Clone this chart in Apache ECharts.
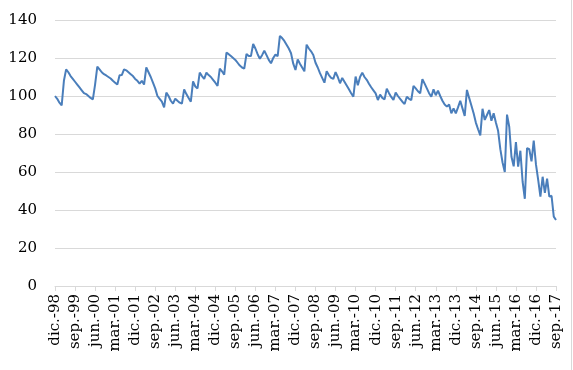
<!DOCTYPE html>
<html>
<head>
<meta charset="utf-8">
<script src="https://cdn.jsdelivr.net/npm/echarts@6/dist/echarts.min.js"></script>
<style>html,body{margin:0;padding:0;background:#fff}#c{width:573px;height:370px}</style>
</head>
<body>
<div id="c"></div>
<script>
var monthNames = ['ene.','feb.','mar.','abr.','may.','jun.','jul.','ago.','sep.','oct.','nov.','dic.'];
// categories: monthly from dic-98 to sep-17
var categories = [];
(function(){ var y = 1998, m = 11; for (var i = 0; i < 226; i++) { categories.push(monthNames[m] + '-' + String(y % 100).padStart(2, '0')); m++; if (m === 12) { m = 0; y++; } } })();

var values = [
100, 98.5, 96.5, 95, 108, 114, 112.5, 110.5, 109, 107.5,
106, 104.5, 103, 101.5, 101, 100, 99, 98.2, 106, 115.4,
114, 112.5, 111.5, 110.8, 110, 109.2, 108, 107, 106, 110.9,
111, 114, 113.5, 112.5, 111.5, 110.5, 109, 108, 106.5, 108,
106, 115, 112.5, 110, 107, 104, 100, 98.5, 97, 94,
101.8, 100, 97.5, 96, 98.6, 97.5, 96.5, 96, 103.5, 101,
99, 97, 107.7, 105, 104, 112.3, 110.5, 109, 112.3, 111,
110, 108.5, 107, 105.3, 114.4, 113, 111.2, 122.8, 122, 121,
120, 119, 117.5, 116, 115, 114.4, 122.1, 121, 121, 127.4,
125, 122, 119.6, 121.5, 123.8, 121.5, 119, 117.2, 120, 121.8,
121, 131.6, 130.5, 129, 127, 125, 122.5, 117, 113.7, 119.3,
117, 115, 113, 127, 125, 123.5, 121.6, 117.5, 115, 112,
109.5, 107, 113, 111, 109.5, 109, 112.6, 110, 106.7, 109.5,
107.5, 105.5, 103.5, 101.5, 99.6, 110.2, 105.6, 110, 112.3, 110,
108.5, 106.5, 104.6, 103, 101.4, 97.9, 100.7, 99, 98.2, 103.8,
101.5, 99.5, 97.9, 101.8, 100, 98.5, 97, 95.8, 99.6, 98.5,
97.9, 105.3, 104, 102.5, 101.4, 108.8, 106.5, 104, 101.5, 99.6,
103.5, 100.4, 102.8, 100, 97.5, 95.5, 94.4, 95.5, 90.9, 93.5,
90.9, 94, 97.5, 93.5, 89.5, 103.2, 99, 95, 90.9, 86,
82.5, 79.3, 93.3, 87.4, 90, 92.6, 87, 90.9, 86, 81.7,
72, 65, 60, 90.2, 83.8, 68, 63, 75.8, 62.8, 71.2,
55, 45.9, 72.6, 72, 65.6, 76.5, 64, 55.8, 47, 57.5,
49, 56.5, 47, 47.5, 36.5, 34.7
];

var yTicks = [0, 20, 40, 60, 80, 100, 120, 140];

var chart = echarts.init(document.getElementById('c'), null, {renderer: 'canvas'});
chart.setOption({
  animation: false,
  backgroundColor: '#ffffff',
  grid: {left: 55, right: 17, top: 20, bottom: 84, containLabel: false},
  xAxis: {
    type: 'category',
    data: categories,
    boundaryGap: false,
    axisLine: {lineStyle: {color: '#d9d9d9', width: 1}},
    axisTick: {show: true, interval: 8, length: 5, lineStyle: {color: '#d9d9d9'}},
    axisLabel: {
      interval: 8, rotate: 90, margin: 8,
      fontFamily: 'DejaVu Serif', fontSize: 15, color: '#000000'
    },
    splitLine: {show: false}
  },
  yAxis: {
    type: 'value',
    min: yTicks[0], max: yTicks[yTicks.length - 1], interval: 20,
    axisLine: {show: false},
    axisTick: {show: false},
    axisLabel: {fontFamily: 'DejaVu Serif', fontSize: 15, color: '#000000', margin: 18},
    splitLine: {lineStyle: {color: '#d9d9d9', width: 1}}
  },
  series: [{
    type: 'line',
    data: values,
    symbol: 'none',
    lineStyle: {color: '#4a7ebb', width: 2},
    itemStyle: {color: '#4a7ebb'}
  }],
  graphic: [{
    type: 'line', shape: {x1: 571.5, y1: 0, x2: 571.5, y2: 370},
    style: {stroke: '#d9d9d9', lineWidth: 1}
  }]
});
</script>
</body>
</html>
